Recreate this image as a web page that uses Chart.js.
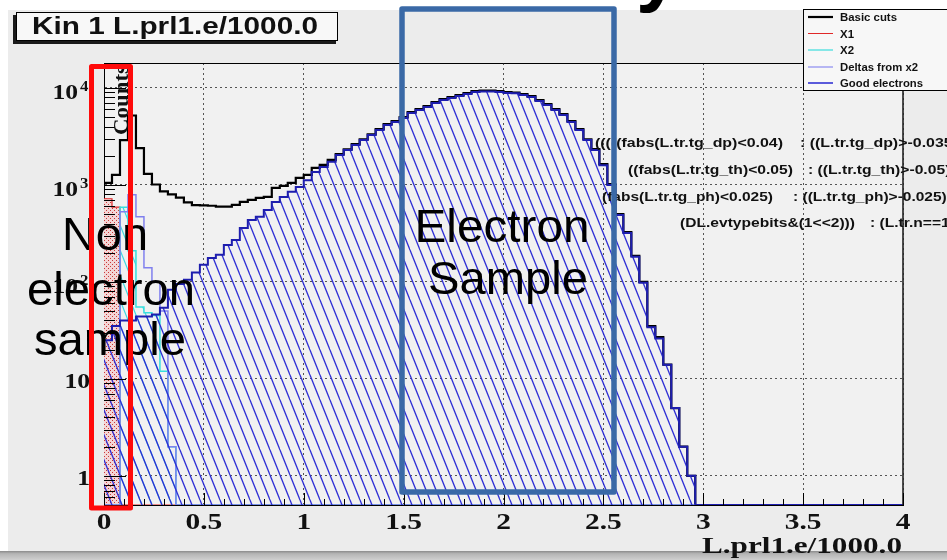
<!DOCTYPE html>
<html>
<head>
<meta charset="utf-8">
<script src="https://cdn.jsdelivr.net/npm/chart.js@4.4.0/dist/chart.umd.min.js"></script>
<style>
  html, body { margin: 0; padding: 0; background: #fff; }
  #c { display: block; }
</style>
</head>
<body>
<canvas id="c" width="947" height="560"></canvas>
<script>
// axis ranges
const X_MIN = 0, X_MAX = 4;
const Y_MIN = 0.5, Y_MAX = 18100;

// 100 bins of 0.04 between 0 and 4
const binEdges = Array.from({ length: 101 }, (_, i) => Math.round(i * 4) / 100);

const xTickValues = [0, 0.5, 1, 1.5, 2, 2.5, 3, 3.5, 4];
const xTickLabels = ['0', '0.5', '1', '1.5', '2', '2.5', '3', '3.5', '4'];
const yTickValues = [1, 10, 100, 1000, 10000];
const yTickExp = ['', '', '2', '3', '4'];

// histogram contents (counts per bin)
const basicCuts = [
  1050, 1270, 2900, 5200, 2400, 1300, 1010, 860, 800, 740,
  660, 620, 615, 610, 597, 597, 622, 668, 700, 735,
  752, 931, 977, 1050, 1180, 1270, 1500, 1610, 1810, 2080,
  2330, 2630, 2950, 3330, 3760, 4230, 4550, 5000, 5640, 6050,
  6500, 7140, 7670, 8050, 8440, 8840, 9280, 9380, 9380, 9280,
  9080, 8980, 8640, 8230, 7490, 6810, 6050, 5380, 4550, 3760,
  2960, 2340, 1640, 1020, 500, 326, 186, 100, 35, 27,
  14, 5, 2, 1, 0, 0, 0, 0, 0, 0,
  0, 0, 0, 0, 0, 0, 0, 0, 0, 0,
  0, 0, 0, 0, 0, 0, 0, 0, 0, 0
];
const x1 = [
  720, 590, 0, 0, 0, 0, 0, 0, 0, 0,
  0, 0, 0, 0, 0, 0, 0, 0, 0, 0,
  0, 0, 0, 0, 0, 0, 0, 0, 0, 0,
  0, 0, 0, 0, 0, 0, 0, 0, 0, 0,
  0, 0, 0, 0, 0, 0, 0, 0, 0, 0,
  0, 0, 0, 0, 0, 0, 0, 0, 0, 0,
  0, 0, 0, 0, 0, 0, 0, 0, 0, 0,
  0, 0, 0, 0, 0, 0, 0, 0, 0, 0,
  0, 0, 0, 0, 0, 0, 0, 0, 0, 0,
  0, 0, 0, 0, 0, 0, 0, 0, 0, 0
];
const x2 = [
  0, 0, 590, 210, 55, 48, 45, 12, 2, 0,
  0, 0, 0, 0, 0, 0, 0, 0, 0, 0,
  0, 0, 0, 0, 0, 0, 0, 0, 0, 0,
  0, 0, 0, 0, 0, 0, 0, 0, 0, 0,
  0, 0, 0, 0, 0, 0, 0, 0, 0, 0,
  0, 0, 0, 0, 0, 0, 0, 0, 0, 0,
  0, 0, 0, 0, 0, 0, 0, 0, 0, 0,
  0, 0, 0, 0, 0, 0, 0, 0, 0, 0,
  0, 0, 0, 0, 0, 0, 0, 0, 0, 0,
  0, 0, 0, 0, 0, 0, 0, 0, 0, 0
];
const deltasX2 = [
  0, 0, 530, 790, 470, 140, 100, 50, 2, 0,
  0, 0, 0, 0, 0, 0, 0, 0, 0, 0,
  0, 0, 0, 0, 0, 0, 0, 0, 0, 0,
  0, 0, 0, 0, 0, 0, 0, 0, 0, 0,
  0, 0, 0, 0, 0, 0, 0, 0, 0, 0,
  0, 0, 0, 0, 0, 0, 0, 0, 0, 0,
  0, 0, 0, 0, 0, 0, 0, 0, 0, 0,
  0, 0, 0, 0, 0, 0, 0, 0, 0, 0,
  0, 0, 0, 0, 0, 0, 0, 0, 0, 0,
  0, 0, 0, 0, 0, 0, 0, 0, 0, 0
];
const goodElectrons = [
  25, 35, 40, 40, 44, 44, 46, 54, 83, 95,
  105, 125, 150, 176, 190, 240, 270, 360, 435, 470,
  550, 665, 750, 850, 950, 1120, 1360, 1530, 1730, 2040,
  2290, 2580, 2900, 3270, 3690, 4150, 4460, 4900, 5530, 5930,
  6370, 7000, 7520, 7890, 8270, 8670, 9100, 9200, 9200, 9100,
  8900, 8800, 8470, 8070, 7340, 6680, 5930, 5270, 4460, 3690,
  2900, 2290, 1600, 1000, 490, 320, 182, 98, 34, 26,
  14, 5, 2, 1, 0, 0, 0, 0, 0, 0,
  0, 0, 0, 0, 0, 0, 0, 0, 0, 0,
  0, 0, 0, 0, 0, 0, 0, 0, 0, 0
];

const legendLabels = ['Basic cuts', 'X1', 'X2', 'Deltas from x2', 'Good electrons'];

const cutLines = [
  ['(((((fabs(L.tr.tg_dp)<0.04)', ': ((L.tr.tg_dp)>-0.035'],
  ['((fabs(L.tr.tg_th)<0.05)', ': ((L.tr.tg_th)>-0.05)'],
  ['(fabs(L.tr.tg_ph)<0.025)', ': ((L.tr.tg_ph)>-0.025)'],
  ['(DL.evtypebits&(1<<2)))', ': (L.tr.n==1']
];

const canvas = document.getElementById('c');
const ctx = canvas.getContext('2d');

// histogram outline: one point per bin low edge, plus the last high edge
function steps(vals) {
  const pts = vals.map((v, i) => ({ x: binEdges[i], y: Math.max(v, Y_MIN) }));
  pts.push({ x: binEdges[vals.length], y: Math.max(vals[vals.length - 1], Y_MIN) });
  return pts;
}

function hatch(color, lw) {
  const c = document.createElement('canvas');
  c.width = 10; c.height = 25;
  const g = c.getContext('2d');
  g.strokeStyle = color;
  g.lineWidth = lw;
  for (const off of [-10, 0, 10]) {
    g.beginPath(); g.moveTo(off, 0); g.lineTo(off + 10, 25); g.stroke();
  }
  return ctx.createPattern(c, 'repeat');
}

function dots() {
  const c = document.createElement('canvas');
  c.width = 4; c.height = 4;
  const g = c.getContext('2d');
  g.fillStyle = '#f3d6d6';
  g.fillRect(0, 0, 4, 4);
  g.fillStyle = '#c83a3a';
  g.fillRect(0, 0, 1, 1);
  g.fillRect(2, 2, 1, 1);
  return ctx.createPattern(c, 'repeat');
}

// draw text squeezed/stretched to a given width
function fitText(g, str, x, y, w, font, color, align) {
  g.save();
  g.font = font;
  g.fillStyle = color;
  g.textBaseline = 'alphabetic';
  g.textAlign = 'left';
  const sx = w / g.measureText(str).width;
  const x0 = align === 'center' ? x - w / 2 : align === 'right' ? x - w : x;
  g.translate(x0, y);
  g.scale(sx, 1);
  g.fillText(str, 0, 0);
  g.restore();
  return sx;
}

function scaledText(g, str, x, y, sx, font, color, align) {
  g.save();
  g.font = font;
  g.fillStyle = color;
  g.textBaseline = 'alphabetic';
  g.textAlign = 'left';
  const w = g.measureText(str).width * sx;
  const x0 = align === 'center' ? x - w / 2 : align === 'right' ? x - w : x;
  g.translate(x0, y);
  g.scale(sx, 1);
  g.fillText(str, 0, 0);
  g.restore();
  return w;
}

const SERIF_B = '"Liberation Serif", "DejaVu Serif", serif';
const SANS = '"Liberation Sans", Arial, sans-serif';

const decor = {
  id: 'decor',
  beforeDraw(chart) {
    const g = chart.ctx, a = chart.chartArea;
    g.save();
    g.fillStyle = '#ffffff';
    g.fillRect(0, 0, 947, 560);
    g.fillStyle = '#ececec';
    g.fillRect(8, 10, 939, 542);
    const gr = g.createLinearGradient(0, 551, 0, 560);
    gr.addColorStop(0, '#8a8a8a');
    gr.addColorStop(0.3, '#b4b4b4');
    gr.addColorStop(1, '#cfcfcf');
    g.fillStyle = gr;
    g.fillRect(0, 551, 947, 9);
    g.fillStyle = '#f1f1f1';
    g.fillRect(a.left, a.top, a.right - a.left, a.bottom - a.top);
    g.restore();
  },
  afterDraw(chart) {
    const g = chart.ctx, a = chart.chartArea;
    const xs = chart.scales.x, ys = chart.scales.y;
    g.save();

    // frame
    g.strokeStyle = '#000';
    g.lineWidth = 1;
    g.beginPath();
    g.moveTo(a.left, a.top + 0.5); g.lineTo(a.right, a.top + 0.5);
    g.stroke();
    g.strokeStyle = '#222';
    g.lineWidth = 1.6;
    g.beginPath();
    g.moveTo(a.right, a.top); g.lineTo(a.right, a.bottom);
    g.stroke();

    // ticks inside the frame
    g.strokeStyle = '#000';
    g.lineWidth = 1;
    for (let i = 0; i <= 40; i++) {
      const v = i / 10;
      const px = Math.round(xs.getPixelForValue(v)) + 0.5;
      const len = i % 5 === 0 ? 12 : 6;
      g.beginPath(); g.moveTo(px, a.bottom); g.lineTo(px, a.bottom - len); g.stroke();
    }
    for (let d = -1; d <= 4; d++) {
      for (let m = 1; m <= 9; m++) {
        const v = m * Math.pow(10, d);
        if (v < Y_MIN || v > Y_MAX) continue;
        const py = Math.round(ys.getPixelForValue(v)) + 0.5;
        const len = m === 1 ? 22 : 11;
        g.beginPath(); g.moveTo(a.left, py); g.lineTo(a.left + len, py); g.stroke();
      }
    }

    // tick labels
    xTickValues.forEach((v, i) => {
      scaledText(g, xTickLabels[i], xs.getPixelForValue(v), 529, 1.28,
        'bold 23px ' + SERIF_B, '#111', 'center');
    });
    yTickValues.forEach((v, i) => {
      const py = ys.getPixelForValue(v);
      if (yTickExp[i]) {
        scaledText(g, '10', 78, py + 11, 1.22, 'bold 21px ' + SERIF_B, '#111', 'right');
        scaledText(g, yTickExp[i], 80, py + 3, 1.2, 'bold 14px ' + SERIF_B, '#111', 'left');
      } else {
        scaledText(g, v === 1 ? '1' : '10', 90, py + 9, 1.22, 'bold 21px ' + SERIF_B, '#111', 'right');
      }
    });

    // axis titles
    fitText(g, 'L.prl1.e/1000.0', 902, 553, 200, 'bold 23px ' + SERIF_B, '#111', 'right');
    g.save();
    g.translate(128, 135);
    g.rotate(-Math.PI / 2);
    fitText(g, 'Counts', 0, 0, 70, 'bold 22px ' + SERIF_B, '#111', 'left');
    g.restore();

    // cut strings
    const cutFont = 'bold 12px ' + SANS;
    const cutPos = [
      [595, 783, 800, 147],
      [628, 793, 808, 174],
      [602, 773, 793, 201],
      [680, 855, 870, 227]
    ];
    cutLines.forEach((ln, i) => {
      const p = cutPos[i];
      const sx = fitText(g, ln[0], p[0], p[3], p[1] - p[0], cutFont, '#111', 'left');
      scaledText(g, ln[1], p[2], p[3], sx, cutFont, '#111', 'left');
    });

    // legend
    g.fillStyle = '#f7f7f7';
    g.fillRect(803, 9, 150, 82);
    g.strokeStyle = '#000';
    g.lineWidth = 1;
    g.strokeRect(803.5, 9.5, 150, 81);
    const legCols = ['#000000', '#e02828', '#3adcdc', '#8a8af0', '#3434d4'];
    const legW = [2.2, 1, 1.2, 1.2, 1.6];
    const legTextW = [57, 14, 14, 78, 83];
    const legY = [17, 33.5, 50, 67, 83];
    legendLabels.forEach((lab, i) => {
      g.strokeStyle = legCols[i];
      g.lineWidth = legW[i];
      g.beginPath(); g.moveTo(808, legY[i]); g.lineTo(833, legY[i]); g.stroke();
      fitText(g, lab, 840, legY[i] + 4, legTextW[i], 'bold 11px ' + SANS, '#111', 'left');
    });

    // title box
    g.fillStyle = '#1a1a1a';
    g.fillRect(13, 15, 4, 29);
    g.fillRect(13, 40, 323, 4);
    g.fillStyle = '#f8f8f8';
    g.fillRect(16, 12, 322, 28);
    g.strokeStyle = '#000';
    g.lineWidth = 1;
    g.strokeRect(16.5, 12.5, 321, 28);
    fitText(g, 'Kin 1 L.prl1.e/1000.0', 32, 34, 286, 'bold 23px ' + SANS, '#111', 'left');

    // slide annotations
    const big = '46px ' + SANS;
    fitText(g, 'Non', 105, 250, 86, big, '#000', 'center');
    fitText(g, 'electron', 111, 305, 168, big, '#000', 'center');
    fitText(g, 'sample', 110, 355, 152, big, '#000', 'center');
    fitText(g, 'Electron', 502, 242, 175, big, '#000', 'center');
    fitText(g, 'Sample', 508, 294, 160, big, '#000', 'center');

    g.lineJoin = 'round';
    g.strokeStyle = '#ff0a0a';
    g.lineWidth = 5;
    g.strokeRect(91.5, 66.5, 39, 441.5);
    g.strokeStyle = '#3a69a6';
    g.lineWidth = 5.5;
    g.strokeRect(402, 9, 212, 483);

    // descender of the slide heading above the picture
    g.fillStyle = '#000';
    g.font = 'bold 80px ' + SANS;
    g.textAlign = 'left';
    g.textBaseline = 'alphabetic';
    g.fillText('y', 636, -4);

    g.restore();
  }
};

new Chart(ctx, {
  type: 'line',
  data: {
    datasets: [
      {
        label: 'Good electrons',
        data: steps(goodElectrons),
        stepped: true,
        borderColor: '#1e1eae',
        borderWidth: 2,
        backgroundColor: hatch('#2b2bd4', 1.3),
        fill: 'start',
        order: 0
      },
      {
        label: 'Deltas from x2',
        data: steps(deltasX2),
        stepped: true,
        borderColor: '#8080ee',
        borderWidth: 1.5,
        fill: false,
        order: 1
      },
      {
        label: 'X2',
        data: steps(x2),
        stepped: true,
        borderColor: '#36dede',
        borderWidth: 1.5,
        backgroundColor: hatch('#3ad8e0', 1.2),
        fill: 'start',
        order: 2
      },
      {
        label: 'X1',
        data: steps(x1),
        stepped: true,
        borderColor: '#e02828',
        borderWidth: 1.2,
        backgroundColor: dots(),
        fill: 'start',
        order: 3
      },
      {
        label: 'Basic cuts',
        data: steps(basicCuts),
        stepped: true,
        borderColor: '#000000',
        borderWidth: 2.2,
        fill: false,
        order: 4
      }
    ]
  },
  options: {
    responsive: false,
    animation: false,
    events: [],
    layout: { padding: { left: 0, right: 44, top: 63, bottom: 0 } },
    elements: { point: { radius: 0 }, line: { tension: 0 } },
    plugins: {
      legend: { display: false },
      title: { display: false },
      tooltip: { enabled: false }
    },
    scales: {
      x: {
        type: 'linear',
        min: X_MIN,
        max: X_MAX,
        afterBuildTicks: s => { s.ticks = xTickValues.map(v => ({ value: v })); },
        afterFit: s => { s.height = 55; },
        ticks: { display: false },
        grid: { color: '#555', lineWidth: 1, drawTicks: false },
        border: { display: true, color: '#000', width: 1, dash: [2, 3] }
      },
      y: {
        type: 'logarithmic',
        min: Y_MIN,
        max: Y_MAX,
        afterBuildTicks: s => { s.ticks = yTickValues.map(v => ({ value: v })); },
        afterFit: s => { s.width = 104; },
        ticks: { display: false },
        grid: { color: '#555', lineWidth: 1, drawTicks: false },
        border: { display: true, color: '#000', width: 1, dash: [2, 3] }
      }
    }
  },
  plugins: [decor]
});
</script>
</body>
</html>
